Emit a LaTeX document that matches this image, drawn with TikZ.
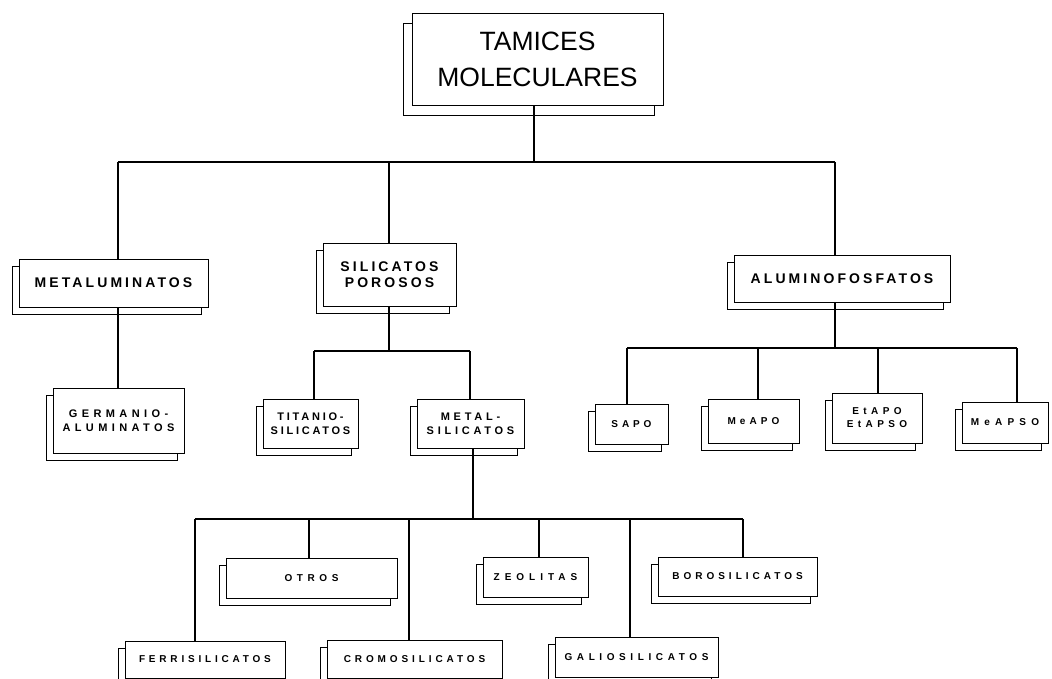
\documentclass[tikz,border=0pt]{standalone}
\usepackage{fontspec}
\setmainfont{Liberation Sans}
\usetikzlibrary{shadows}
\newcommand\labfont[3]{\fontsize{#1}{#2}\selectfont\bfseries\addfontfeature{LetterSpace=#3}}
\begin{document}
\begin{tikzpicture}[x=1pt,y=-1pt,
  boxbase/.style={draw, line width=0.8pt, fill=white, inner sep=0pt, align=center},
  box/.style={boxbase, copy shadow={shadow xshift=-7pt,shadow yshift=-7pt}},
  bigbox/.style={boxbase, copy shadow={shadow xshift=-9pt,shadow yshift=-10pt}},
  conn/.style={line width=1.3pt}]
\useasboundingbox (0,0) rectangle (1052,679);
% level 0
\node[bigbox, minimum width=251pt, minimum height=92pt, font=\fontsize{26.5}{36}\selectfont] (tam) at (537.5,59) {TAMICES\\MOLECULARES};
% level 1
\node[box, minimum width=189pt, minimum height=48pt, font=\labfont{14}{16}{22}] (metal) at (113.5,283) {METALUMINATOS};
\node[box, minimum width=133pt, minimum height=63pt, font=\labfont{14}{15.5}{22}] (sil) at (389.5,274.5) {SILICATOS\\POROSOS};
\node[box, minimum width=216pt, minimum height=47pt, font=\labfont{14}{16}{22}] (alu) at (842,278.5) {ALUMINOFOSFATOS};
% level 2
\node[box, minimum width=131pt, minimum height=65pt, font=\labfont{11}{14}{40}] (germ) at (118.5,420.5) {GERMANIO-\\ALUMINATOS};
\node[box, minimum width=95pt, minimum height=49pt, font=\labfont{11}{14}{25}] (tit) at (310.5,423.5) {TITANIO-\\SILICATOS};
\node[box, minimum width=107pt, minimum height=49pt, font=\labfont{11}{14}{34}] (mets) at (470.5,423.5) {METAL-\\SILICATOS};
\node[box, minimum width=73pt, minimum height=40pt, font=\labfont{10}{13}{39}] (sapo) at (631.5,424) {SAPO};
\node[box, minimum width=91pt, minimum height=44pt, font=\labfont{10}{13}{41}] (meapo) at (753.5,421) {MeAPO};
\node[box, minimum width=90pt, minimum height=50pt, font=\labfont{10}{13}{44}] (etapo) at (877,418) {EtAPO\\EtAPSO};
\node[box, minimum width=86pt, minimum height=41pt, font=\labfont{10}{13}{52}] (meapso) at (1005,422.5) {MeAPSO};
% level 3
\node[box, minimum width=171pt, minimum height=40pt, font=\labfont{10}{13}{46}] (otros) at (311.5,578) {OTROS};
\node[box, minimum width=105pt, minimum height=40pt, font=\labfont{10}{13}{50}] (zeo) at (535.5,577) {ZEOLITAS};
\node[box, minimum width=159pt, minimum height=39pt, font=\labfont{10}{13}{40}] (boro) at (737.5,576.5) {BOROSILICATOS};
\node[box, minimum width=160pt, minimum height=37pt, font=\labfont{10}{13}{38}] (ferri) at (205,659.5) {FERRISILICATOS};
\node[box, minimum width=175pt, minimum height=38pt, font=\labfont{10}{13}{39}] (cromo) at (414.5,659) {CROMOSILICATOS};
\node[box, minimum width=163pt, minimum height=40pt, font=\labfont{10}{13}{46}] (galio) at (636.5,657) {GALIOSILICATOS};
% connectors level 0 -> 1
\coordinate (b1) at (534,162);
\coordinate (b1l) at (118,162);
\coordinate (b1m) at (389,162);
\coordinate (b1r) at (835,162);
\draw[conn] (tam.south -| b1) -- (b1);
\draw[conn] (b1l) -- (b1r);
\draw[conn] (b1l) -- (b1l |- metal.north);
\draw[conn] (b1m) -- (b1m |- sil.north);
\draw[conn] (b1r) -- (b1r |- alu.north);
% metaluminatos -> germanio
\draw[conn] (b1l |- metal.south) -- (b1l |- germ.north);
% silicatos porosos
\coordinate (s) at (389,351);
\coordinate (sl) at (314,351);
\coordinate (sr) at (470,351);
\draw[conn] (s |- sil.south) -- (s);
\draw[conn] (sl) -- (sr);
\draw[conn] (sl) -- (sl |- tit.north);
\draw[conn] (sr) -- (sr |- mets.north);
% aluminofosfatos
\coordinate (a) at (835,348);
\coordinate (a1) at (627,348);
\coordinate (a2) at (758,348);
\coordinate (a3) at (878,348);
\coordinate (a4) at (1017,348);
\draw[conn] (a |- alu.south) -- (a);
\draw[conn] (a1) -- (a4);
\draw[conn] (a1) -- (a1 |- sapo.north);
\draw[conn] (a2) -- (a2 |- meapo.north);
\draw[conn] (a3) -- (a3 |- etapo.north);
\draw[conn] (a4) -- (a4 |- meapso.north);
% metal-silicatos
\coordinate (m) at (473,519);
\coordinate (m1) at (195,519);
\coordinate (m2) at (309,519);
\coordinate (m3) at (409,519);
\coordinate (m4) at (539,519);
\coordinate (m5) at (630,519);
\coordinate (m6) at (743,519);
\draw[conn] (m |- mets.south) -- (m);
\draw[conn] (m1) -- (m6);
\draw[conn] (m1) -- (m1 |- ferri.north);
\draw[conn] (m2) -- (m2 |- otros.north);
\draw[conn] (m3) -- (m3 |- cromo.north);
\draw[conn] (m4) -- (m4 |- zeo.north);
\draw[conn] (m5) -- (m5 |- galio.north);
\draw[conn] (m6) -- (m6 |- boro.north);
\end{tikzpicture}
\end{document}
